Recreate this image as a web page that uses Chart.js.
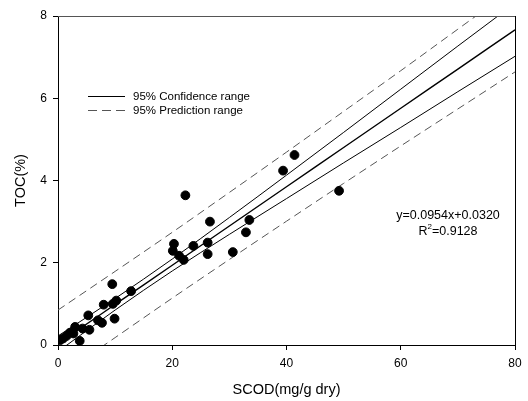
<!DOCTYPE html>
<html>
<head>
<meta charset="utf-8">
<script src="https://cdn.jsdelivr.net/npm/chart.js@4/dist/chart.umd.min.js"></script>
<style>
  html, body { margin: 0; padding: 0; background: #fff; }
  canvas { display: block; }
</style>
</head>
<body>
<canvas id="chart" width="528" height="401"></canvas>
<script>
// ---- DATA ----
const scodVals = [0.4, 0.9, 1.5, 2.1, 2.7, 3.0, 3.8, 4.3, 5.3, 5.5, 7.0, 7.7, 8.0, 9.6, 9.5, 9.9, 10.2, 12.8,
                  20.1, 20.3, 21.2, 22.0, 22.3, 23.7, 26.2, 26.2, 26.6, 30.6, 32.9, 33.5, 39.4, 41.4, 49.2];
const tocVals  = [0.12, 0.16, 0.22, 0.30, 0.28, 0.44, 0.10, 0.40, 0.72, 0.37, 0.60, 0.54, 0.98, 1.00, 1.48, 0.64, 1.08, 1.31,
                  2.29, 2.46, 2.17, 2.07, 3.64, 2.41, 2.49, 2.21, 3.00, 2.26, 2.74, 3.04, 4.24, 4.62, 3.75];

// regression line and bands, sampled at these x values
const bandX     = [0, 10, 20, 30, 40, 50, 60, 70, 80];
const fitY      = [0.032, 0.986, 1.940, 2.894, 3.848, 4.802, 5.756, 6.710, 7.664];
const confUpper = [0.22, 1.13, 2.09, 3.10, 4.13, 5.17, 6.22, 7.27, 8.31];
const confLower = [-0.16, 0.85, 1.80, 2.69, 3.56, 4.43, 5.29, 6.16, 7.02];
const predUpper = [0.85, 1.79, 2.74, 3.71, 4.69, 5.68, 6.67, 7.68, 8.69];
const predLower = [-0.78, 0.18, 1.14, 2.08, 3.01, 3.93, 4.84, 5.74, 6.64];

const xTicks = [0, 20, 40, 60, 80];
const yTicks = [0, 2, 4, 6, 8];

const legendLabels = ["95% Confidence range", "95% Prediction range"];
const eqText = "y=0.0954x+0.0320";
const r2Text = "=0.9128";

const FONT = "'Liberation Sans', Arial, sans-serif";
const pts = (xs, ys) => xs.map((x, i) => ({ x, y: ys[i] }));

const lineSet = (ys, opts) => Object.assign({
  type: "line",
  data: pts(bandX, ys),
  borderColor: "#000",
  borderWidth: 1,
  pointRadius: 0,
  fill: false,
  cubicInterpolationMode: "monotone",
}, opts);

// ---- EXTRA DRAWING: frame, legend, equation, axis titles ----
const decorations = {
  id: "decorations",
  afterDraw(chart) {
    const { ctx, chartArea: a } = chart;
    ctx.save();
    // top and right frame
    ctx.lineWidth = 1;
    ctx.strokeStyle = "#555";
    ctx.beginPath(); ctx.moveTo(a.left, a.top + 0.5); ctx.lineTo(a.right, a.top + 0.5); ctx.stroke();
    ctx.strokeStyle = "#000";
    ctx.beginPath(); ctx.moveTo(a.right + 0.5, a.top); ctx.lineTo(a.right + 0.5, a.bottom + 5); ctx.stroke();

    // legend
    ctx.strokeStyle = "#000";
    ctx.beginPath(); ctx.moveTo(88, 96.5); ctx.lineTo(125, 96.5); ctx.stroke();
    ctx.strokeStyle = "#555";
    ctx.setLineDash([9, 5]);
    ctx.beginPath(); ctx.moveTo(88, 110.5); ctx.lineTo(125, 110.5); ctx.stroke();
    ctx.setLineDash([]);
    ctx.fillStyle = "#000";
    ctx.font = "11.5px " + FONT;
    ctx.textBaseline = "middle";
    ctx.textAlign = "left";
    ctx.fillText(legendLabels[0], 133, 96.5);
    ctx.fillText(legendLabels[1], 133, 110.5);

    // equation
    ctx.font = "12.5px " + FONT;
    ctx.textAlign = "center";
    ctx.fillText(eqText, 448, 216);
    const rw = ctx.measureText("R").width;
    const ew = ctx.measureText(r2Text).width;
    ctx.font = "8px " + FONT;
    const sw = ctx.measureText("2").width;
    const x0 = 448 - (rw + sw + ew) / 2;
    ctx.textAlign = "left";
    ctx.font = "12.5px " + FONT;
    ctx.fillText("R", x0, 232);
    ctx.fillText(r2Text, x0 + rw + sw, 232);
    ctx.font = "8px " + FONT;
    ctx.fillText("2", x0 + rw, 227);

    // axis titles
    ctx.font = "14.5px " + FONT;
    ctx.textAlign = "center";
    ctx.fillText("SCOD(mg/g dry)", (a.left + a.right) / 2, 390);
    ctx.translate(21, (a.top + a.bottom) / 2);
    ctx.rotate(-Math.PI / 2);
    ctx.fillText("TOC(%)", 0, 0);
    ctx.restore();
  }
};

const axisCommon = {
  type: "linear",
  grid: { display: true, drawOnChartArea: false, drawTicks: true, tickLength: 5, color: "#000", lineWidth: 1 },
  border: { display: true, color: "#000", width: 1 },
  ticks: { color: "#000", font: { family: FONT, size: 12 }, padding: 6 },
};

new Chart(document.getElementById("chart"), {
  type: "scatter",
  data: {
    datasets: [
      {
        label: "data",
        data: pts(scodVals, tocVals),
        backgroundColor: "#000",
        borderColor: "#000",
        pointRadius: 4.4,
        pointHoverRadius: 4.4,
        order: 0,
      },
      lineSet(fitY, { borderWidth: 1.4, order: 1 }),
      lineSet(confUpper, { order: 2 }),
      lineSet(confLower, { order: 2 }),
      lineSet(predUpper, { borderColor: "#555", borderDash: [8, 5], order: 3 }),
      lineSet(predLower, { borderColor: "#555", borderDash: [8, 5], order: 3 }),
    ]
  },
  options: {
    responsive: false,
    animation: false,
    devicePixelRatio: 1,
    layout: { padding: { left: 0, top: 16, right: 13, bottom: 0 } },
    plugins: { legend: { display: false }, tooltip: { enabled: false } },
    scales: {
      x: Object.assign({}, axisCommon, {
        min: 0, max: 80,
        afterBuildTicks: s => { s.ticks = xTicks.map(v => ({ value: v })); },
        afterFit: s => { s.height = 56; },
      }),
      y: Object.assign({}, axisCommon, {
        min: 0, max: 8,
        afterBuildTicks: s => { s.ticks = yTicks.map(v => ({ value: v })); },
        afterFit: s => { s.width = 58; },
      }),
    }
  },
  plugins: [decorations]
});
</script>
</body>
</html>
